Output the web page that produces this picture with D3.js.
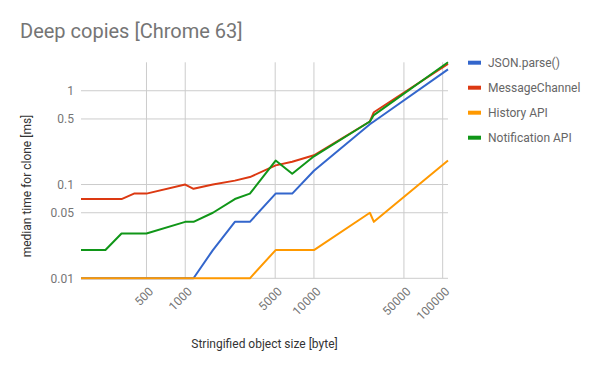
<!DOCTYPE html>
<html><head><meta charset="utf-8">
<script src="https://cdn.jsdelivr.net/npm/d3@7"></script>
<style>body{margin:0;background:#fff;}svg{display:block;font-family:Roboto,Arial,sans-serif;}</style>
</head><body><svg id="c" width="600" height="371"></svg>
<script>
const sizes = [155, 240, 320, 400, 500, 1000, 1160, 1640, 2430, 3180, 5040, 6780, 10000, 27200, 29200, 110000];
const seriesNames = ["JSON.parse()", "MessageChannel", "History API", "Notification API"];
const seriesColors = ["#3366cc", "#dc3912", "#ff9900", "#109618"];
const jsonParse = [0.01, 0.01, 0.01, 0.01, 0.01, 0.01, 0.01, 0.02, 0.04, 0.04, 0.08, 0.08, 0.14, 0.44, 0.47, 1.69];
const messageChannel = [0.07, 0.07, 0.07, 0.08, 0.08, 0.1, 0.09, 0.1, 0.11, 0.12, 0.16, 0.175, 0.205, 0.47, 0.59, 1.93];
const historyApi = [0.01, 0.01, 0.01, 0.01, 0.01, 0.01, 0.01, 0.01, 0.01, 0.01, 0.02, 0.02, 0.02, 0.05, 0.04, 0.18];
const notificationApi = [0.02, 0.02, 0.03, 0.03, 0.03, 0.04, 0.04, 0.05, 0.07, 0.08, 0.18, 0.13, 0.2, 0.47, 0.55, 2.01];
const xTicks = [500, 1000, 5000, 10000, 50000, 100000];
const yTicks = [0.01, 0.05, 0.1, 0.5, 1];
const titleText = "Deep copies [Chrome 63]";
const xTitle = "Stringified object size [byte]";
const yTitle = "median time for clone [ms]";

const allSeries = [jsonParse, messageChannel, historyApi, notificationApi];
const svg = d3.select("#c");
const L = 81, R = 448, T = 62.3, B = 278.3;
const x = d3.scaleLog().domain([sizes[0], sizes[sizes.length-1]]).range([L, R]);
const y = d3.scaleLog().domain([0.01, 2.01]).range([B, T]);

// gridlines
svg.append("g").selectAll("line").data(yTicks).join("line")
  .attr("x1", L).attr("x2", R).attr("y1", d=>y(d)).attr("y2", d=>y(d))
  .attr("stroke", "#cccccc").attr("stroke-width", 1);
svg.append("g").selectAll("line").data(xTicks).join("line")
  .attr("x1", d=>x(d)).attr("x2", d=>x(d)).attr("y1", T).attr("y2", B)
  .attr("stroke", "#cccccc").attr("stroke-width", 1);

// y axis labels
const yAxis = d3.axisLeft(y).tickValues(yTicks).tickFormat(d=>String(d)).tickSize(0).tickPadding(7);
const gy = svg.append("g").attr("transform", `translate(${L},0)`).call(yAxis);
gy.select(".domain").remove();
gy.selectAll("text").attr("fill", "#757575").style("font-size", "12px").style("font-family", "Roboto");

// x axis labels rotated
const xAxis = d3.axisBottom(x).tickValues(xTicks).tickFormat(d=>String(d)).tickSize(0);
const gx = svg.append("g").attr("transform", `translate(0,${B})`).call(xAxis);
gx.select(".domain").remove();
gx.selectAll("text").attr("fill", "#757575").style("font-size", "12px").style("font-family", "Roboto")
  .attr("text-anchor", "end").attr("dy", null).attr("y", 0)
  .attr("transform", "translate(7,14) rotate(-45)");

// lines
const line = d3.line().x((d,i)=>x(sizes[i])).y(d=>y(d));
allSeries.forEach((s,k)=>{
  svg.append("path").datum(s).attr("d", line).attr("fill", "none")
    .attr("stroke", seriesColors[k]).attr("stroke-width", 2).attr("stroke-linejoin", "round");
});

// titles
svg.append("text").attr("x", 20).attr("y", 38).text(titleText)
  .attr("fill", "#757575").style("font-size", "20px");
svg.append("text").attr("x", 264.5).attr("y", 348).attr("text-anchor", "middle").text(xTitle)
  .attr("fill", "#333").style("font-size", "12px");
svg.append("text").attr("transform", "translate(31,186) rotate(-90)").attr("text-anchor", "middle").text(yTitle)
  .attr("fill", "#333").style("font-size", "12px");

// legend
const lg = svg.append("g").selectAll("g").data(seriesNames).join("g")
  .attr("transform", (d,i)=>`translate(468,${62.7 + i*25})`);
lg.append("line").attr("x1", 0).attr("x2", 13).attr("y1", 0).attr("y2", 0)
  .attr("stroke", (d,i)=>seriesColors[i]).attr("stroke-width", 4);
lg.append("text").attr("x", 20).attr("y", 4.3).text(d=>d).attr("fill", "#666").style("font-size", "12px");
</script></body></html>
